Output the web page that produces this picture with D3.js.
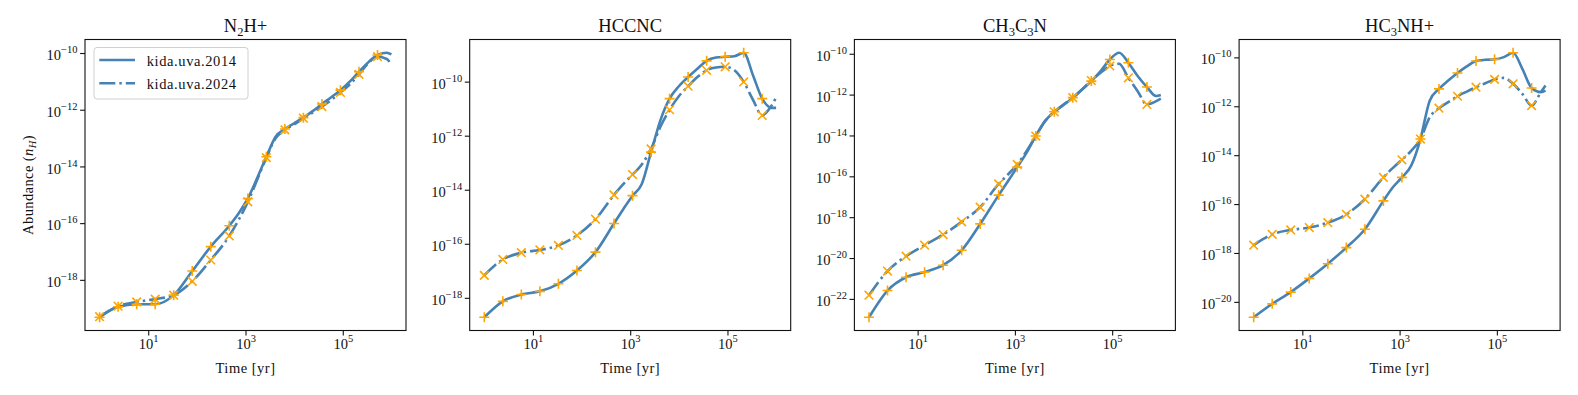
<!DOCTYPE html>
<html>
<head>
<meta charset="utf-8">
<script src="https://cdn.jsdelivr.net/npm/d3@7"></script>
<style>
  body { margin: 0; background: #fff; }
  svg { display: block; }
  text { font-family: "Liberation Serif", "Times New Roman", serif; fill: #111; }
</style>
</head>
<body>
<svg id="fig" width="1578" height="395"></svg>
<script>
// time grid of the model output [yr]
var times = [1, 2.404, 5.781, 13.90, 33.42, 80.35, 193.2, 464.2, 719.7, 1116, 1730, 2683, 4159,
  6452, 10000, 15510, 24040, 37280, 57810, 89630, 139000, 215400, 334200, 517900, 803500, 1000000];
// times that carry a marker
var markerTimes = [1, 2.404, 5.781, 13.90, 33.42, 80.35, 193.2, 464.2, 1116, 2683, 6452, 15510,
  37280, 89630, 215400, 517900];

var species = ["N2H+", "HCCNC", "CH3C3N", "HC3NH+"];
var networks = ["kida.uva.2014", "kida.uva.2024"];
var xTicks = [1e1, 1e3, 1e5];

// log10 abundance (n_H), one value per entry of times
var n2hp_2014 = [-19.32, -18.95, -18.86, -18.86, -18.54, -17.69, -16.83,
  -16.09, -15.66, -15.13, -14.42, -13.66, -12.95, -12.68, -12.48, -12.28, -12.05, -11.80, -11.56,
  -11.31, -11.01, -10.66, -10.33, -10.07, -9.99, -10.05];
var n2hp_2024 = [-19.30, -18.93, -18.78, -18.68, -18.54, -18.05, -17.30,
  -16.45, -15.89, -15.25, -14.48, -13.69, -13.01, -12.71, -12.52, -12.30, -12.10, -11.89, -11.66,
  -11.39, -11.11, -10.75, -10.36, -10.13, -10.21, -10.42];

var hccnc_2014 = [-18.72, -18.13, -17.88, -17.76, -17.48, -16.99, -16.31,
  -15.25, -14.72, -14.22, -13.79, -12.61, -11.44, -10.63, -10.17, -9.83, -9.52, -9.23, -9.11,
  -9.08, -9.06, -8.93, -9.76, -10.63, -10.97, -10.97];
var hccnc_2024 = [-17.17, -16.58, -16.33, -16.23, -16.06, -15.69, -15.09,
  -14.19, -13.79, -13.44, -13.07, -12.49, -11.68, -11.04, -10.54, -10.17, -9.83, -9.58, -9.48,
  -9.45, -9.58, -10.01, -10.67, -11.25, -10.89, -10.59];

var ch3c3n_2014 = [-22.90, -21.59, -20.94, -20.69, -20.35, -19.62, -18.33,
  -16.92, -16.24, -15.55, -14.85, -14.03, -13.30, -12.84, -12.51, -12.15, -11.75, -11.34, -10.85,
  -10.28, -9.95, -10.44, -11.09, -11.63, -12.07, -12.02];
var ch3c3n_2024 = [-21.82, -20.64, -19.91, -19.37, -18.85, -18.23, -17.51,
  -16.37, -15.91, -15.42, -14.77, -14.03, -13.30, -12.84, -12.48, -12.15, -11.75, -11.31, -10.93,
  -10.60, -10.49, -11.18, -11.83, -12.48, -12.32, -12.19];

var hc3nhp_2014 = [-20.63, -20.08, -19.60, -19.04, -18.44, -17.78, -17.03,
  -15.87, -15.32, -14.91, -14.43, -13.34, -11.77, -11.29, -10.95, -10.64, -10.37, -10.15, -10.10,
  -10.08, -9.99, -9.81, -10.47, -11.25, -11.42, -11.36];
var hc3nhp_2024 = [-17.68, -17.24, -17.06, -16.96, -16.76, -16.42, -15.80,
  -14.91, -14.53, -14.19, -13.82, -13.34, -12.45, -12.08, -11.83, -11.59, -11.40, -11.22, -11.06,
  -10.90, -10.84, -11.08, -11.49, -11.97, -11.42, -11.15];

var panelData = [
  [n2hp_2014, n2hp_2024],
  [hccnc_2014, hccnc_2024],
  [ch3c3n_2014, ch3c3n_2024],
  [hc3nhp_2014, hc3nhp_2024]
];

// ---- layout / style
var lineColor = "#4682b4";
var markColor = "#ffa500";
var dashes = [null, "16,4,2.5,4"];
var markShapes = ["plus", "cross"];
var ax = {left: 85, step: 384.7, top: 39.5, width: 321, height: 291};

var svg = d3.select("#fig");

function powLabel(sel, e) {
  sel.append("tspan").text("10");
  sel.append("tspan").attr("dy", -7).attr("font-size", "10.5px")
    .text((e < 0 ? "\u2212" : "") + Math.abs(e));
}

function subFormula(sel, name) {
  // digits as subscripts, for the species titles
  var parts = name.match(/\d+|\D+/g);
  var down = false;
  parts.forEach(function(p) {
    var isNum = /\d/.test(p);
    var t = sel.append("tspan").text(p);
    if (isNum) { t.attr("font-size", "12.5px").attr("dy", 4); down = true; }
    else if (down) { t.attr("dy", -4); down = false; }
  });
}

species.forEach(function(name, p) {
  var x0 = ax.left + p * ax.step;
  var g = svg.append("g").attr("transform", "translate(" + x0 + "," + ax.top + ")");

  var x = d3.scaleLog().domain([Math.pow(10, -0.3), Math.pow(10, 6.3)]).range([0, ax.width]);

  var all = panelData[p][0].concat(panelData[p][1]);
  var lo = d3.min(all), hi = d3.max(all), pad = (hi - lo) * 0.05;
  var y = d3.scaleLog().domain([Math.pow(10, lo - pad), Math.pow(10, hi + pad)]).range([ax.height, 0]);

  var yTicks = d3.range(Math.ceil((lo - pad) / 2) * 2, hi + pad, 2).map(function(e) { return Math.pow(10, e); });

  // x axis
  var xa = g.append("g").attr("transform", "translate(0," + ax.height + ")")
    .call(d3.axisBottom(x).tickValues(xTicks).tickSizeInner(4.9).tickSizeOuter(0).tickFormat(""));
  xa.select(".domain").remove();
  xa.selectAll(".tick line").attr("stroke", "#111").attr("stroke-width", 1.1);
  xa.selectAll(".tick").append("text")
    .attr("y", 18.5).attr("text-anchor", "middle").attr("font-size", "14.5px").attr("fill", "#111")
    .each(function(d) { powLabel(d3.select(this), Math.round(Math.log10(d))); });

  // y axis
  var ya = g.append("g")
    .call(d3.axisLeft(y).tickValues(yTicks).tickSizeInner(4.9).tickSizeOuter(0).tickFormat(""));
  ya.select(".domain").remove();
  ya.selectAll(".tick line").attr("stroke", "#111").attr("stroke-width", 1.1);
  ya.selectAll(".tick").append("text")
    .attr("x", -7.5).attr("y", 6.6).attr("text-anchor", "end").attr("font-size", "14.5px").attr("fill", "#111")
    .each(function(d) { powLabel(d3.select(this), Math.round(Math.log10(d))); });

  // lines
  var line = d3.line()
    .x(function(d) { return x(d[0]); })
    .y(function(d) { return y(Math.pow(10, d[1])); })
    .curve(d3.curveMonotoneX);

  panelData[p].forEach(function(vals, s) {
    var pts = times.map(function(t, i) { return [t, vals[i]]; });
    g.append("path").datum(pts)
      .attr("d", line)
      .attr("fill", "none")
      .attr("stroke", lineColor)
      .attr("stroke-width", 2.6)
      .attr("stroke-linejoin", "round")
      .attr("stroke-dasharray", dashes[s]);
  });

  // markers
  panelData[p].forEach(function(vals, s) {
    var pts = times.map(function(t, i) { return [t, vals[i]]; })
      .filter(function(d) { return markerTimes.indexOf(d[0]) >= 0; });
    var r = 5, c = 4.3;
    var path = markShapes[s] === "plus"
      ? "M" + (-r) + ",0H" + r + "M0," + (-r) + "V" + r
      : "M" + (-c) + "," + (-c) + "L" + c + "," + c + "M" + (-c) + "," + c + "L" + c + "," + (-c);
    g.append("g").selectAll("path").data(pts).enter().append("path")
      .attr("transform", function(d) { return "translate(" + x(d[0]) + "," + y(Math.pow(10, d[1])) + ")"; })
      .attr("d", path)
      .attr("stroke", markColor)
      .attr("stroke-width", 1.6)
      .attr("fill", "none");
  });

  // frame
  g.append("rect").attr("width", ax.width).attr("height", ax.height)
    .attr("fill", "none").attr("stroke", "#111").attr("stroke-width", 1.1);

  // title
  var title = g.append("text").attr("x", ax.width / 2).attr("y", -7.5)
    .attr("text-anchor", "middle").attr("font-size", "18.5px");
  subFormula(title, name);

  // x label
  g.append("text").attr("x", ax.width / 2).attr("y", ax.height + 42.5)
    .attr("text-anchor", "middle").attr("font-size", "14.5px").attr("letter-spacing", "0.5px")
    .text("Time [yr]");

  if (p === 0) {
    // y label
    var yl = g.append("text")
      .attr("transform", "translate(" + (-52) + "," + (ax.height / 2) + ") rotate(-90)")
      .attr("text-anchor", "middle").attr("font-size", "14.5px").attr("letter-spacing", "0.4px");
    yl.append("tspan").text("Abundance (");
    yl.append("tspan").attr("font-style", "italic").text("n");
    yl.append("tspan").attr("font-style", "italic").attr("font-size", "10.5px").attr("dy", 3).text("H");
    yl.append("tspan").attr("dy", -3).text(")");

    // legend
    var lg = g.append("g").attr("transform", "translate(9,8)");
    lg.append("rect").attr("width", 154).attr("height", 51.5).attr("rx", 3)
      .attr("fill", "#fff").attr("fill-opacity", 0.8).attr("stroke", "#d0d0d0").attr("stroke-width", 1);
    networks.forEach(function(n, s) {
      var ly = 12.5 + s * 23.3;
      lg.append("line").attr("x1", 5.3).attr("x2", 41).attr("y1", ly).attr("y2", ly)
        .attr("stroke", lineColor).attr("stroke-width", 2.6).attr("stroke-dasharray", dashes[s]);
      lg.append("text").attr("x", 52.7).attr("y", ly + 5.5).attr("font-size", "14.5px")
        .attr("letter-spacing", "0.6px").text(n);
    });
  }
});
</script>
</body>
</html>
